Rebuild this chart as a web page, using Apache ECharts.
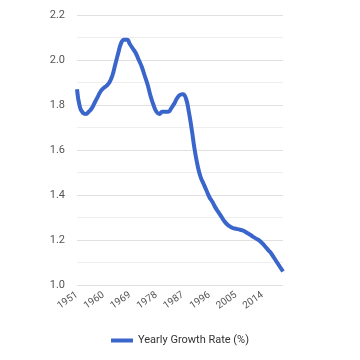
<!DOCTYPE html>
<html><head><meta charset="utf-8">
<script src="https://cdn.jsdelivr.net/npm/echarts@6/dist/echarts.min.js"></script>
<style>html,body{margin:0;padding:0;background:#fff}#c{width:360px;height:360px}</style>
</head><body><div id="c"></div>
<script>
const years = [];
for (let y = 1951; y <= 2021; y++) years.push(String(y));
const growthRate = [1.87,1.79,1.765,1.76,1.77,1.785,1.81,1.835,1.86,1.875,
1.885,1.90,1.93,1.98,2.03,2.075,2.09,2.09,2.07,2.05,
2.03,2.00,1.97,1.93,1.89,1.84,1.80,1.77,1.76,1.77,
1.77,1.77,1.785,1.805,1.83,1.845,1.848,1.83,1.77,1.69,
1.60,1.53,1.48,1.45,1.42,1.39,1.37,1.345,1.325,1.305,
1.285,1.27,1.26,1.253,1.25,1.247,1.244,1.238,1.23,1.222,
1.213,1.205,1.197,1.185,1.17,1.155,1.14,1.12,1.10,1.08,1.06];
const seriesName = 'Yearly Growth Rate (%)';
const chart = echarts.init(document.getElementById('c'));
chart.setOption({
  animation:false,
  textStyle:{fontFamily:'Roboto'},
  grid:{left:77,right:77,top:15,bottom:75},
  legend:{bottom:9,left:'center',icon:'rect',itemWidth:22,itemHeight:4,
    textStyle:{color:'#333',fontSize:11,fontFamily:'Roboto'},data:[seriesName]},
  xAxis:{type:'category',data:years,boundaryGap:false,
    axisLine:{show:false},axisTick:{show:false},
    axisLabel:{interval:8,rotate:35,color:'#555',fontSize:10,margin:9}},
  yAxis:{type:'value',min:1.0,max:2.2,interval:0.2,
    axisLabel:{color:'#555',fontSize:11,margin:12,formatter:v=>v.toFixed(1)},
    splitLine:{lineStyle:{color:'#e0e0e0'}},
    minorTick:{show:false,splitNumber:2},
    minorSplitLine:{show:true,lineStyle:{color:'#eeeeee'}}},
  series:[{name:seriesName,type:'line',data:growthRate,smooth:true,showSymbol:false,
    itemStyle:{color:'#3a66cc'},lineStyle:{width:4,color:'#3a66cc'}}]
});
</script></body></html>
